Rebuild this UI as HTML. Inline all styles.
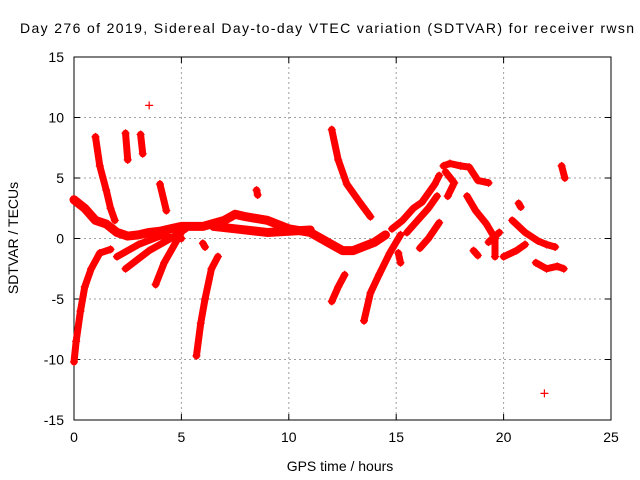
<!DOCTYPE html>
<html><head><meta charset="utf-8"><style>
body{margin:0;background:#fff;}
svg{display:block;font-family:"Liberation Sans",sans-serif;}
</style></head><body>
<svg id="chart" width="640" height="480">
<text x="20" y="33" font-size="14" textLength="614" lengthAdjust="spacing">Day 276 of 2019, Sidereal Day-to-day VTEC variation (SDTVAR) for receiver rwsn</text>
<text x="340" y="471" font-size="14" text-anchor="middle">GPS time / hours</text>
<text transform="translate(18,238) rotate(-90)" font-size="14" text-anchor="middle">SDTVAR / TECUs</text>
<g id="grid"></g><g id="axes"></g><g id="marks"></g>
</svg>
<script>
const xTicks=[0,5,10,15,20,25];
const yTicks=[-15,-10,-5,0,5,10,15];
const track1=[[0,3.2],[0.5,2.5],[1,1.5],[1.5,1.2],[2,0.5],[2.5,0.2],[3,0.3],[3.5,0.5],[4,0.6],[4.5,0.8],[5,1],[6,1],[7,1.5],[7.5,2],[8,1.8],[9,1.5],[10,0.8],[11,0.5],[12,-0.5],[12.5,-1],[13,-1],[14,-0.3],[14.5,0.3]];
const track2=[[0,-10.2],[0.1,-8.5],[0.3,-6],[0.5,-4],[0.8,-2.5],[1.2,-1.2],[1.7,-0.9]];
const track3=[[1,8.4],[1.2,6],[1.5,4],[1.7,2.5],[1.9,1.5]];
const track4=[[2.4,8.7],[2.5,6.5]];
const track5=[[3.1,8.6],[3.2,7]];
const track6=[[3.5,11]];
const track7=[[4,4.5],[4.3,2.3]];
const track8=[[2.4,-2.5],[3.5,-1],[4.5,0],[5.2,0.8]];
const track9=[[3.8,-3.8],[4.2,-2],[5,0.5]];
const track10=[[2,-1.5],[3,-0.5],[4,0.2],[5,0]];
const track11=[[5.7,-9.7],[5.9,-7],[6.1,-5],[6.4,-2.5],[6.7,-1.5]];
const track12=[[6,-0.4],[6.1,-0.7]];
const track13=[[8.5,4],[8.55,3.6]];
const track14=[[6.5,1],[7.5,0.8],[9,0.5],[10,0.6],[11,0.7]];
const track15=[[12,9],[12.3,6.5],[12.7,4.5],[13.3,3],[13.8,1.8]];
const track16=[[12,-5.2],[12.3,-4],[12.6,-3]];
const track17=[[13.5,-6.8],[13.8,-4.5],[14.2,-3],[14.7,-1.2],[15.2,0.3]];
const track18=[[14.8,0.8],[15.3,1.5],[15.8,2.5],[16.2,3],[16.8,4.5],[17,5.2]];
const track19=[[15.5,0.5],[16,1.5],[16.5,2.5],[16.9,3.5]];
const track20=[[15.1,-1.2],[15.2,-2]];
const track21=[[16.1,-0.8],[16.5,0],[17,1.3]];
const track22=[[17.2,6],[17.5,6.2],[18,6],[18.4,5.9],[18.8,4.8],[19.3,4.6]];
const track23=[[17.3,5.5],[17.7,4.6],[17.4,3.5]];
const track24=[[18.3,3.5],[18.7,2.3],[19.2,1.2],[19.6,0],[19.6,-1.5]];
const track25=[[20.7,2.9],[20.8,2.6]];
const track26=[[20.4,1.5],[21,0.5],[21.6,-0.2],[22,-0.5],[22.4,-0.7]];
const track27=[[20,-1.5],[20.6,-1],[21,-0.5]];
const track28=[[21.5,-2],[22,-2.5],[22.5,-2.3],[22.8,-2.5]];
const track29=[[22.7,6],[22.85,5]];
const track30=[[21.9,-12.8]];
const track31=[[18.6,-1],[18.8,-1.4]];
const track32=[[19.3,-0.3],[19.8,0.5]];
const tracks=[track1,track2,track3,track4,track5,track6,track7,track8,track9,track10,track11,track12,track13,track14,track15,track16,track17,track18,track19,track20,track21,track22,track23,track24,track25,track26,track27,track28,track29,track30,track31,track32];

const X0=74,X1=611,Y0=420,Y1=57;
function sx(t){return X0+(t-0)/(25-0)*(X1-X0);}
function sy(v){return Y0-(v+15)/30*(Y0-Y1);}
const NS="http://www.w3.org/2000/svg";
function mk(tag,attrs,parent){const e=document.createElementNS(NS,tag);for(const k in attrs)e.setAttribute(k,attrs[k]);parent.appendChild(e);return e;}
const grid=document.getElementById('grid'),axes=document.getElementById('axes'),marks=document.getElementById('marks');
xTicks.forEach(t=>{
  const x=sx(t);
  if(t>0&&t<25){const g=mk('line',{x1:x,x2:x,y1:Y1,y2:Y0,stroke:'#a0a0a0','stroke-dasharray':'2,3'},grid);
  
  }
  const l=mk('text',{x:x,y:Y0+22,'font-size':14,'text-anchor':'middle'},axes);l.textContent=t;
  
  
  mk('line',{x1:x,x2:x,y1:Y0,y2:Y0-6,stroke:'#000'},axes);
  mk('line',{x1:x,x2:x,y1:Y1,y2:Y1+6,stroke:'#000'},axes);
});
yTicks.forEach(v=>{
  const y=sy(v);
  if(v>-15&&v<15){const g=mk('line',{x1:X0,x2:X1,y1:y,y2:y,stroke:'#a0a0a0','stroke-dasharray':'2,3'},grid);
  
  }
  const l=mk('text',{x:X0-10,y:y+5,'font-size':14,'text-anchor':'end'},axes);l.textContent=v;
  
  
  mk('line',{x1:X0,x2:X0+6,y1:y,y2:y,stroke:'#000'},axes);
  mk('line',{x1:X1,x2:X1-6,y1:y,y2:y,stroke:'#000'},axes);
});
const frame=mk('rect',{x:X0,y:Y1,width:X1-X0,height:Y0-Y1,fill:'none',stroke:'#000'},axes);


tracks.forEach((tr,i)=>{
  const g=mk('g',{},marks);
  
  
  if(tr.length>1){
    mk('polyline',{points:tr.map(p=>sx(p[0])+','+sy(p[1])).join(' '),fill:'none',stroke:'#f00','stroke-width':(i===0||i===13)?9:7,'stroke-linejoin':'round','stroke-linecap':'round'},g);
  }
  tr.forEach(p=>{
    const x=sx(p[0]),y=sy(p[1]);
    mk('path',{d:`M${x-4},${y}H${x+4}M${x},${y-4}V${y+4}`,stroke:'#f00','stroke-width':1.2},g);
  });
});
</script>
</body></html>
